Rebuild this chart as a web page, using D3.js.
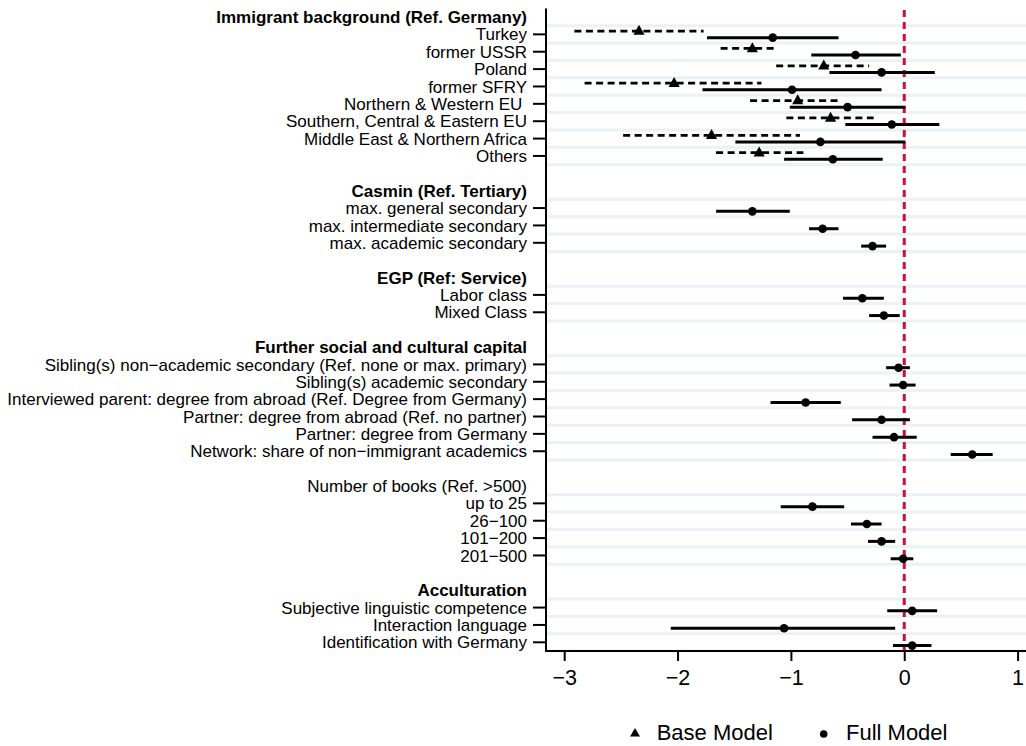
<!DOCTYPE html>
<html>
<head>
<meta charset="utf-8">
<script src="https://cdn.jsdelivr.net/npm/d3@7"></script>
<style>
  html, body { margin: 0; padding: 0; background: #fff; }
  svg { display: block; }
  text { font-family: "Liberation Sans", Arial, Helvetica, sans-serif; fill: #000; }
</style>
</head>
<body>
<script>
// ---- Data ----
const groupTitles = [
  "Immigrant background (Ref. Germany)",
  "Casmin (Ref. Tertiary)",
  "EGP (Ref: Service)",
  "Further social and cultural capital",
  "Number of books (Ref. >500)",
  "Acculturation"
];
const groupBold = [true, true, true, true, false, true];
const groupSizes = [8, 3, 2, 6, 4, 3];

const coefLabels = [
  "Turkey", "former USSR", "Poland", "former SFRY", "Northern & Western EU ",
  "Southern, Central & Eastern EU", "Middle East & Northern Africa", "Others",
  "max. general secondary", "max. intermediate secondary", "max. academic secondary",
  "Labor class", "Mixed Class",
  "Sibling(s) non\u2212academic secondary (Ref. none or max. primary)",
  "Sibling(s) academic secondary",
  "Interviewed parent: degree from abroad (Ref. Degree from Germany)",
  "Partner: degree from abroad (Ref. no partner)",
  "Partner: degree from Germany",
  "Network: share of non\u2212immigrant academics",
  "up to 25", "26\u2212100", "101\u2212200", "201\u2212500",
  "Subjective linguistic competence", "Interaction language", "Identification with Germany"
];

const fullEst = [-1.16, -0.43, -0.20, -0.99, -0.50, -0.11, -0.74, -0.63,
  -1.34, -0.72, -0.28, -0.37, -0.18,
  -0.05, -0.01, -0.87, -0.20, -0.09, 0.60,
  -0.81, -0.33, -0.20, -0.01,
  0.07, -1.06, 0.07];
const fullLo = [-1.74, -0.82, -0.66, -1.78, -1.01, -0.52, -1.49, -1.06,
  -1.66, -0.84, -0.38, -0.54, -0.31,
  -0.16, -0.13, -1.18, -0.46, -0.28, 0.41,
  -1.09, -0.47, -0.32, -0.12,
  -0.15, -2.06, -0.10];
const fullHi = [-0.58, -0.03, 0.27, -0.20, 0.01, 0.31, 0.01, -0.19,
  -1.01, -0.58, -0.16, -0.18, -0.04,
  0.05, 0.10, -0.56, 0.05, 0.11, 0.78,
  -0.53, -0.20, -0.08, 0.08,
  0.29, -0.08, 0.24];

const baseEst = [-2.34, -1.34, -0.71, -2.03, -0.94, -0.65, -1.70, -1.28];
const baseLo  = [-2.91, -1.62, -1.13, -2.82, -1.36, -1.04, -2.48, -1.66];
const baseHi  = [-1.77, -1.12, -0.31, -1.26, -0.55, -0.27, -0.92, -0.89];

const xTicks = [-3, -2, -1, 0, 1];
const legendLabels = ["Base Model", "Full Model"];

// ---- Build row layout ----
const rows = [];
let ci = 0;
groupTitles.forEach((t, g) => {
  if (g > 0) rows.push({kind: "blank"});
  rows.push({kind: "header", label: t, bold: groupBold[g]});
  for (let k = 0; k < groupSizes[g]; k++) {
    rows.push({kind: "coef", label: coefLabels[ci], ci: ci});
    ci++;
  }
});
rows.forEach((r, i) => r.idx = i);

// ---- Layout ----
const W = 1026, H = 746;
const axisX = 546, axisBottom = 651;
const svg = d3.select("body").append("svg").attr("width", W).attr("height", H);

const x = d3.scaleLinear().domain([-3, 1]).range([564.2, 1017.6]);
const y = d3.scaleLinear().domain([-0.5, rows.length - 0.5]).range([8.3, axisBottom]);

// gridlines
const gridYs = new Set();
rows.filter(r => r.kind === "coef").forEach(r => {
  gridYs.add((r.idx - 0.5).toFixed(2));
  gridYs.add((r.idx + 0.5).toFixed(2));
});
svg.append("g").selectAll("line").data([...gridYs].map(Number)).join("line")
  .attr("x1", axisX).attr("x2", W)
  .attr("y1", d => y(d)).attr("y2", d => y(d))
  .attr("stroke", "#eaf2f3").attr("stroke-width", 3);

// zero reference line
svg.append("line")
  .attr("x1", x(0)).attr("x2", x(0))
  .attr("y1", 10).attr("y2", axisBottom)
  .attr("stroke", "#c8103c").attr("stroke-width", 3)
  .attr("stroke-dasharray", "7,5");

const coefRows = rows.filter(r => r.kind === "coef");
const off = 3.3;

// base model CIs (dashed)
const baseRows = coefRows.filter(r => r.ci < baseEst.length);
svg.append("g").selectAll("line").data(baseRows).join("line")
  .attr("x1", r => x(baseLo[r.ci])).attr("x2", r => x(baseHi[r.ci]))
  .attr("y1", r => y(r.idx) - off).attr("y2", r => y(r.idx) - off)
  .attr("stroke", "#000").attr("stroke-width", 2.8)
  .attr("stroke-dasharray", "7,4.5");

// full model CIs
svg.append("g").selectAll("line").data(coefRows).join("line")
  .attr("x1", r => x(fullLo[r.ci])).attr("x2", r => x(fullHi[r.ci]))
  .attr("y1", r => y(r.idx) + off).attr("y2", r => y(r.idx) + off)
  .attr("stroke", "#000").attr("stroke-width", 3);

// triangle markers
const triPath = "M0,-6.2L5.6,3.8L-5.6,3.8Z";
svg.append("g").selectAll("path").data(baseRows).join("path")
  .attr("d", triPath)
  .attr("transform", r => `translate(${x(baseEst[r.ci])},${y(r.idx) - off})`)
  .attr("fill", "#000");

// circle markers
svg.append("g").selectAll("circle").data(coefRows).join("circle")
  .attr("cx", r => x(fullEst[r.ci])).attr("cy", r => y(r.idx) + off)
  .attr("r", 4.3).attr("fill", "#000");

// y labels
svg.append("g").selectAll("text").data(rows.filter(r => r.kind !== "blank")).join("text")
  .attr("x", 527).attr("y", r => y(r.idx)).attr("dy", "0.36em")
  .attr("text-anchor", "end")
  .style("white-space", "pre")
  .attr("font-size", 17)
  .attr("font-weight", r => r.kind === "header" && r.bold ? "bold" : "normal")
  .text(r => r.label);

// y ticks
svg.append("g").selectAll("line").data(coefRows).join("line")
  .attr("x1", 533).attr("x2", axisX)
  .attr("y1", r => y(r.idx)).attr("y2", r => y(r.idx))
  .attr("stroke", "#000").attr("stroke-width", 2);

// left axis
svg.append("line").attr("x1", axisX).attr("x2", axisX)
  .attr("y1", 8.5).attr("y2", axisBottom + 1)
  .attr("stroke", "#000").attr("stroke-width", 2);

// bottom axis
const xAxis = d3.axisBottom(x).tickValues(xTicks).tickSize(10).tickSizeOuter(0)
  .tickFormat(d => d < 0 ? "\u2212" + Math.abs(d) : String(d));
const gx = svg.append("g").attr("transform", `translate(0,${axisBottom})`).call(xAxis);
gx.select(".domain").remove();
gx.selectAll(".tick line").attr("stroke", "#000").attr("stroke-width", 2);
gx.selectAll(".tick text").attr("font-size", 21.5).attr("dy", 0).attr("y", 34)
  .attr("font-family", "'Liberation Sans', Arial, sans-serif").attr("fill", "#000");
svg.append("line").attr("x1", axisX - 1).attr("x2", W)
  .attr("y1", axisBottom).attr("y2", axisBottom)
  .attr("stroke", "#000").attr("stroke-width", 2);

// legend
const leg = svg.append("g");
leg.append("path").attr("d", "M0,-5L5,3.5L-5,3.5Z")
  .attr("transform", "translate(635,733)").attr("fill", "#000");
leg.append("text").attr("x", 656.7).attr("y", 739.5).attr("font-size", 22).text(legendLabels[0]);
leg.append("circle").attr("cx", 823.7).attr("cy", 734).attr("r", 3.8).attr("fill", "#000");
leg.append("text").attr("x", 846).attr("y", 739.5).attr("font-size", 22).text(legendLabels[1]);
</script>
</body>
</html>
